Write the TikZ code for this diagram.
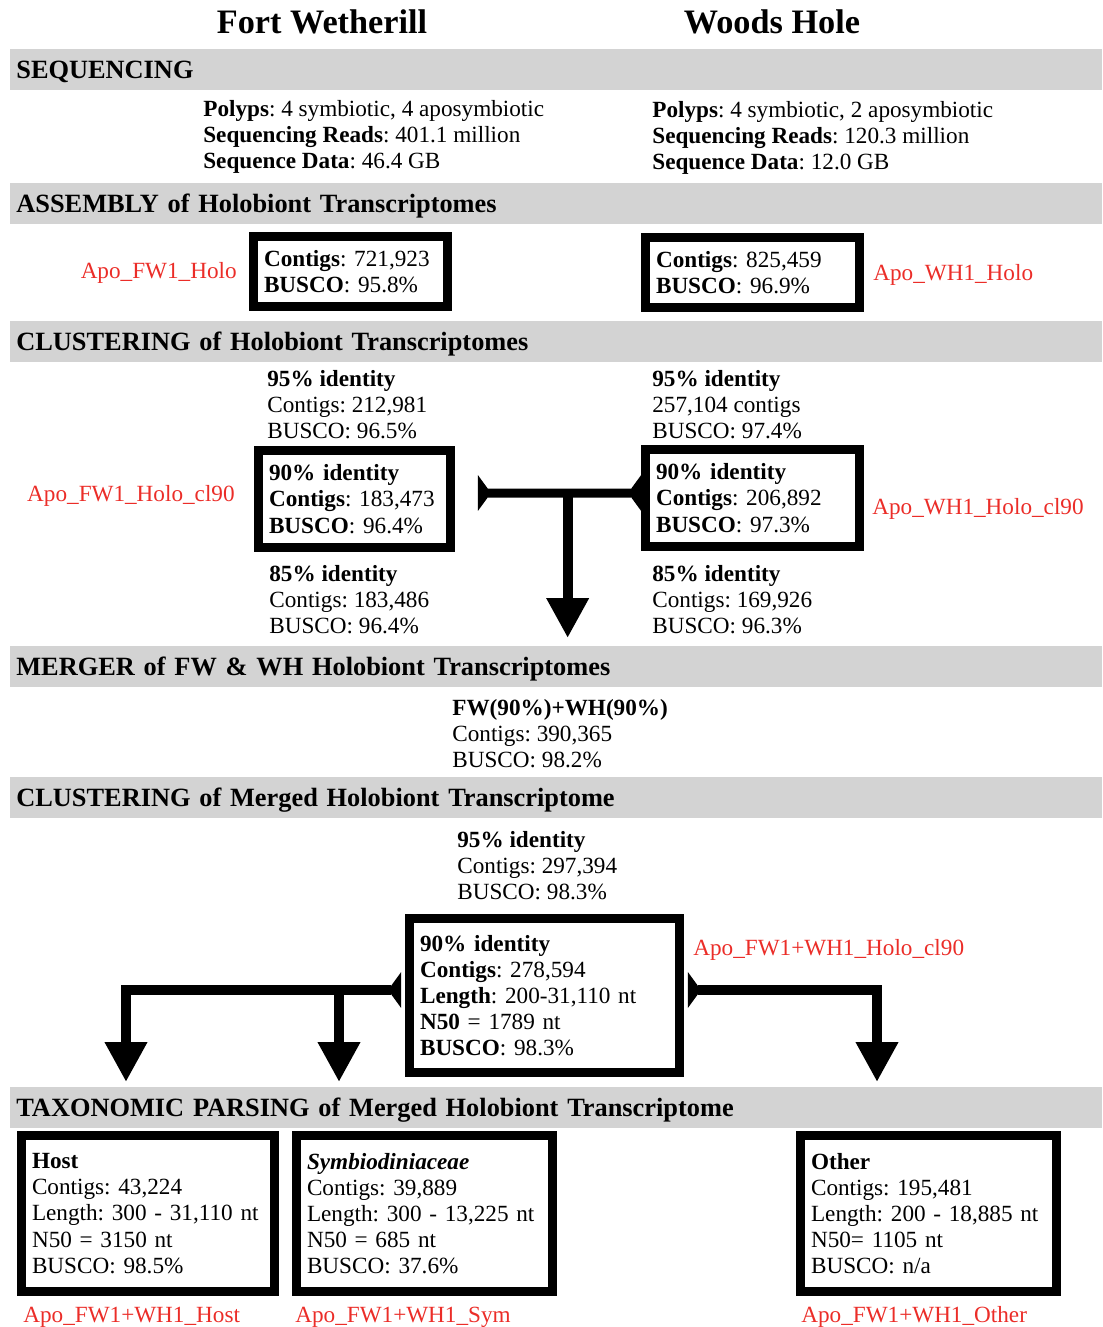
\documentclass[tikz,border=0pt]{standalone}
\usepackage{fontspec}
\setmainfont{Liberation Serif}
\usetikzlibrary{arrows.meta,calc}
\definecolor{bargray}{RGB}{211,211,211}
\definecolor{apored}{RGB}{235,45,40}
\newcommand{\bodyfont}{\fontsize{13.2}{14.9}\selectfont}
\frenchspacing
\begin{document}
\begin{tikzpicture}[x=0.02cm,y=-0.02cm,
	every node/.style={font=\bodyfont},
	site/.style={anchor=base,inner sep=0pt,font=\fontsize{19.5}{22}\selectfont\bfseries},
	bar/.style={fill=bargray,anchor=north west,minimum height=0.82cm,text width=21.6cm,inner xsep=0.12cm,inner ysep=0pt,align=left,text height=0.95em,text depth=0pt,font=\fontsize{15}{18}\selectfont\bfseries},
	info/.style={anchor=north west,inner sep=0pt,align=left},
	box/.style={draw,line width=0.18cm,inner xsep=0.21cm,inner ysep=0pt,align=left},
	apo/.style={text=apored,inner sep=0pt},
	tee/.style={line width=0.18cm,{Triangle[reversed,length=0.26cm,width=0.7cm]}-{Triangle[reversed,length=0.26cm,width=0.7cm]}},
	split/.style={line width=0.2cm,{Triangle[reversed,length=0.26cm,width=0.7cm]}-{Triangle[length=0.8cm,width=0.8cm]}},
	down/.style={line width=0.2cm,-{Triangle[length=0.8cm,width=0.8cm]}}]
	\useasboundingbox (0,0) rectangle (1102,1327);
	\node[site] (fw) at (322,34) {Fort Wetherill};
	\node[site] (wh) at (772,34) {Woods Hole};
	\node[bar] (seqbar) at (10,49) {SEQUENCING};
	\node[info] (fwseq) at (203,100) {\textbf{Polyps}: 4 symbiotic, 4 aposymbiotic\\\textbf{Sequencing Reads}: 401.1 million\\\textbf{Sequence Data}: 46.4 GB};
	\node[info] (whseq) at (652,101) {\textbf{Polyps}: 4 symbiotic, 2 aposymbiotic\\\textbf{Sequencing Reads}: 120.3 million\\\textbf{Sequence Data}: 12.0 GB};
	\node[bar] (asmbar) at (10,183) {ASSEMBLY of Holobiont Transcriptomes};
	\node[box,text width=3.46cm,minimum height=1.40cm] (fwasm) at (350.5,271.5) {\textbf{Contigs}: 721,923\\\textbf{BUSCO}: 95.8\%};
	\node[box,text width=3.86cm,minimum height=1.40cm] (whasm) at (752.5,272.5) {\textbf{Contigs}: 825,459\\\textbf{BUSCO}: 96.9\%};
	\node[apo,anchor=base east] (fwasmlab) at (237,279) {Apo\_FW1\_Holo};
	\node[apo,anchor=base west] (whasmlab) at (873,281) {Apo\_WH1\_Holo};
	\node[bar] (clbar) at (10,321) {CLUSTERING of Holobiont Transcriptomes};
	\node[info] (fwninefive) at (267,370) {\textbf{95\% identity}\\Contigs: 212,981\\BUSCO: 96.5\%};
	\node[box,text width=3.42cm,minimum height=1.94cm] (fwcl) at (354.5,499) {\textbf{90\% identity}\\\textbf{Contigs}: 183,473\\\textbf{BUSCO}: 96.4\%};
	\node[info] (fweightfive) at (269,565) {\textbf{85\% identity}\\Contigs: 183,486\\BUSCO: 96.4\%};
	\node[info] (whninefive) at (652,370) {\textbf{95\% identity}\\257,104 contigs\\BUSCO: 97.4\%};
	\node[box,text width=3.86cm,minimum height=1.94cm] (whcl) at (752.5,498) {\textbf{90\% identity}\\\textbf{Contigs}: 206,892\\\textbf{BUSCO}: 97.3\%};
	\node[info] (wheightfive) at (652,565) {\textbf{85\% identity}\\Contigs: 169,926\\BUSCO: 96.3\%};
	\node[apo,anchor=base east] (fwcllab) at (235,501) {Apo\_FW1\_Holo\_cl90};
	\node[apo,anchor=base west] (whcllab) at (872,514) {Apo\_WH1\_Holo\_cl90};
	\node[bar] (mgbar) at (10,646) {MERGER of FW \& WH Holobiont Transcriptomes};
	\node[info] (merged) at (452,699) {\textbf{FW(90\%)+WH(90\%)}\\Contigs: 390,365\\BUSCO: 98.2\%};
	\node[bar] (mclbar) at (10,777) {CLUSTERING of Merged Holobiont Transcriptome};
	\node[info] (mgninefive) at (457,831) {\textbf{95\% identity}\\Contigs: 297,394\\BUSCO: 98.3\%};
	\node[box,text width=4.98cm,minimum height=3.08cm] (mgcl) at (544.5,995.5) {\textbf{90\% identity}\\\textbf{Contigs}: 278,594\\\textbf{Length}: 200-31,110 nt\\\textbf{N50} = 1789 nt\\\textbf{BUSCO}: 98.3\%};
	\node[apo,anchor=base west] (mgcllab) at (693,955) {Apo\_FW1+WH1\_Holo\_cl90};
	\node[bar] (taxbar) at (10,1087) {TAXONOMIC PARSING of Merged Holobiont Transcriptome};
	\node[box,text width=4.64cm,minimum height=3.12cm] (host) at (148,1213.5) {\textbf{Host}\\Contigs: 43,224\\Length: 300 - 31,110 nt\\N50 = 3150 nt\\BUSCO: 98.5\%};
	\node[box,text width=4.70cm,minimum height=3.12cm] (sym) at (424.5,1213.5) {\textbf{\textit{Symbiodiniaceae}}\\Contigs: 39,889\\Length: 300 - 13,225 nt\\N50 = 685 nt\\BUSCO: 37.6\%};
	\node[box,text width=4.70cm,minimum height=3.12cm] (other) at (928.5,1213.5) {\textbf{Other}\\Contigs: 195,481\\Length: 200 - 18,885 nt\\N50= 1105 nt\\BUSCO: n/a};
	\node[apo,anchor=base west] (hostlab) at (23,1322) {Apo\_FW1+WH1\_Host};
	\node[apo,anchor=base west] (symlab) at (295,1322) {Apo\_FW1+WH1\_Sym};
	\node[apo,anchor=base west] (otherlab) at (801,1322) {Apo\_FW1+WH1\_Other};
	\coordinate (tl) at ([xshift=0.46cm,yshift=0.12cm]fwcl.east);
	\coordinate (tr) at ([yshift=0.1cm]whcl.west);
	\coordinate (tm) at ($(tl)!0.55!(tr)$);
	\draw[tee] (tl) -- (tr);
	\draw[down] (tm) -- ($(tm |- mgbar.north)+(0,-8)$);
	\coordinate (ml) at ([xshift=-0.08cm,yshift=0.11cm]mgcl.west);
	\coordinate (mr) at ([xshift=0.08cm,yshift=0.11cm]mgcl.east);
	\coordinate (hostin) at (126,1082);
	\coordinate (symin) at (339,1082);
	\coordinate (otherin) at (877,1082);
	\draw[split] (ml) -| (hostin);
	\draw[down] (ml -| symin) -- (symin);
	\draw[split] (mr) -| (otherin);
\end{tikzpicture}
\end{document}
